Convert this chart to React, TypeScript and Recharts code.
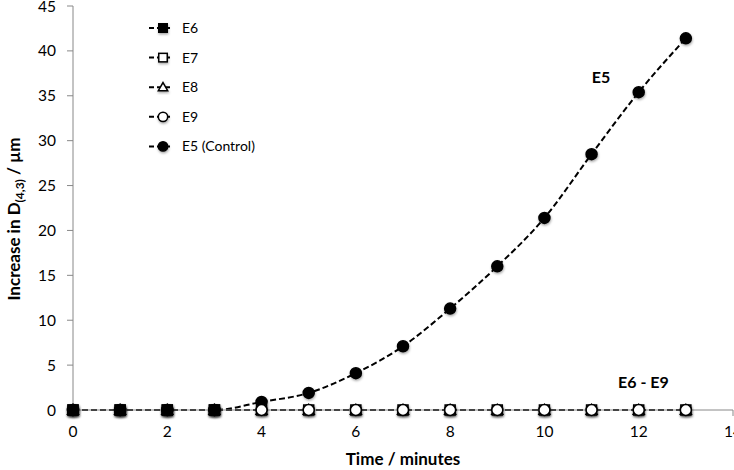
import React from 'react';
import { LineChart, Line, XAxis, YAxis, ReferenceDot } from 'recharts';

const times = [0, 1, 2, 3, 4, 5, 6, 7, 8, 9, 10, 11, 12, 13];
const e5 = [0, 0, 0, 0, 0.9, 1.9, 4.1, 7.1, 11.3, 16.0, 21.4, 28.5, 35.4, 41.4];
const e6 = [0, 0, 0, 0];
const e7 = [0, 0, 0, 0, 0, 0, 0, 0, 0, 0, 0, 0, 0, 0];
const e8 = [0, 0, 0, 0, 0, 0, 0, 0, 0, 0, 0, 0, 0, 0];
const e9 = [0, 0, 0, 0, 0, 0, 0, 0, 0, 0, 0, 0, 0, 0];

const xTicks = [0, 2, 4, 6, 8, 10, 12, 14];
const yTicks = [0, 5, 10, 15, 20, 25, 30, 35, 40, 45];
const legendNames = ['E6', 'E7', 'E8', 'E9', 'E5 (Control)'];
const legendShapes = ['squareFilled', 'square', 'triangle', 'circle', 'circleFilled'];

const data = times.map((t, i) => ({
    t,
    e5: e5[i],
    e6: e6[i],
    e7: e7[i],
    e8: e8[i],
    e9: e9[i],
}));

const FONT = 'Lato, "Open Sans", sans-serif';
const DASH = '6 3';

const Marker = ({ shape, cx, cy, size = 1 }: { shape: string; cx: number; cy: number; size?: number }) => {
    const f = 'url(#mkShadow)';
    if (shape === 'squareFilled' || shape === 'square') {
        const h = 5 * size;
        return (
            <rect x={cx - h} y={cy - h} width={2 * h} height={2 * h} filter={f}
                fill={shape === 'square' ? '#fff' : '#000'} stroke="#000" strokeWidth={1.5} />
        );
    }
    if (shape === 'triangle') {
        const h = 5.5 * size;
        return (
            <polygon points={`${cx},${cy - h} ${cx + h},${cy + h * 0.75} ${cx - h},${cy + h * 0.75}`}
                fill="#fff" stroke="#000" strokeWidth={1.5} filter={f} />
        );
    }
    return (
        <circle cx={cx} cy={cy} r={5.5 * size} filter={f}
            fill={shape === 'circle' ? '#fff' : '#000'} stroke="#000" strokeWidth={1.5} />
    );
};

const dotFor = (shape: string) => (p: any) => {
    if (p.cx == null || p.cy == null || p.value == null) return <g key={p.index} />;
    return (
        <g key={p.index}>
            <Marker shape={shape} cx={p.cx} cy={p.cy} />
        </g>
    );
};

const YTitle = () => (
    <text transform="translate(20, 219) rotate(-90)" textAnchor="middle"
        fontFamily={FONT} fontWeight="bold" fontSize={17} fill="#000">
        Increase in D
        <tspan fontSize={12} dy={4}>(4,3)</tspan>
        <tspan dy={-4}> / µm</tspan>
    </text>
);

const XTitle = ({ viewBox }: any) => (
    <text x={viewBox.x + viewBox.width / 2} y={viewBox.y + 55} textAnchor="middle"
        fontFamily={FONT} fontWeight="bold" fontSize={17} fill="#000">
        Time / minutes
    </text>
);

const LegendBox = () => (
    <svg width={160} height={160} style={{ position: 'absolute', left: 140, top: 14 }}>
        {legendNames.map((name, i) => {
            const y = 14 + i * 29.6;
            return (
                <g key={name}>
                    <line x1={9} x2={33} y1={y} y2={y} stroke="#000" strokeWidth={2} strokeDasharray="5 3" />
                    <Marker shape={legendShapes[i]} cx={23} cy={y} size={0.85} />
                    <text x={42} y={y + 5} fontFamily={FONT} fontSize={14} fill="#000">{name}</text>
                </g>
            );
        })}
    </svg>
);

const annotationLabel = (text: string) => ({
    value: text,
    position: 'center' as const,
    fontFamily: FONT,
    fontWeight: 'bold',
    fontSize: 16,
    fill: '#000',
});

export default function App() {
    return (
        <div style={{ position: 'absolute', left: 0, top: 0, width: 734, height: 470, background: '#fff', overflow: 'hidden' }}>
            <svg width={0} height={0} style={{ position: 'absolute' }}>
                <defs>
                    <filter id="mkShadow" x="-50%" y="-50%" width="200%" height="200%">
                        <feDropShadow dx={0.5} dy={1.5} stdDeviation={1.2} floodColor="#000" floodOpacity={0.35} />
                    </filter>
                </defs>
            </svg>
            <LineChart width={734} height={470} data={data} style={{ overflow: 'visible' }}
                margin={{ top: 6, right: 1, bottom: 0, left: 0 }}>
                <XAxis dataKey="t" type="number" domain={[0, 14]} ticks={xTicks} interval={0}
                    stroke="#888" tickSize={6} tickMargin={10} height={60}
                    tick={{ fill: '#000', fontSize: 15.5, fontFamily: FONT }}
                    label={{ content: XTitle }} />
                <YAxis type="number" domain={[0, 45]} ticks={yTicks} width={73} interval={0}
                    stroke="#888" tickSize={6} tickMargin={11}
                    tick={{ fill: '#000', fontSize: 15.5, fontFamily: FONT }}
                    label={{ content: YTitle }} />
                <Line dataKey="e5" type="monotone" stroke="#000" strokeWidth={2} strokeDasharray={DASH}
                    dot={dotFor('circleFilled')} isAnimationActive={false} />
                <Line dataKey="e8" type="linear" stroke="#000" strokeWidth={2} strokeDasharray={DASH}
                    dot={dotFor('triangle')} isAnimationActive={false} />
                <Line dataKey="e7" type="linear" stroke="#000" strokeWidth={2} strokeDasharray={DASH}
                    dot={dotFor('square')} isAnimationActive={false} />
                <Line dataKey="e9" type="linear" stroke="#000" strokeWidth={2} strokeDasharray={DASH}
                    dot={dotFor('circle')} isAnimationActive={false} />
                <Line dataKey="e6" type="linear" stroke="#000" strokeWidth={2} strokeDasharray={DASH}
                    dot={dotFor('squareFilled')} isAnimationActive={false} />
                <ReferenceDot x={11.2} y={37.1} r={0} fill="none" stroke="none"
                    label={annotationLabel('E5')} />
                <ReferenceDot x={12.1} y={3.1} r={0} fill="none" stroke="none"
                    label={annotationLabel('E6 - E9')} />
            </LineChart>
            <LegendBox />
        </div>
    );
}
